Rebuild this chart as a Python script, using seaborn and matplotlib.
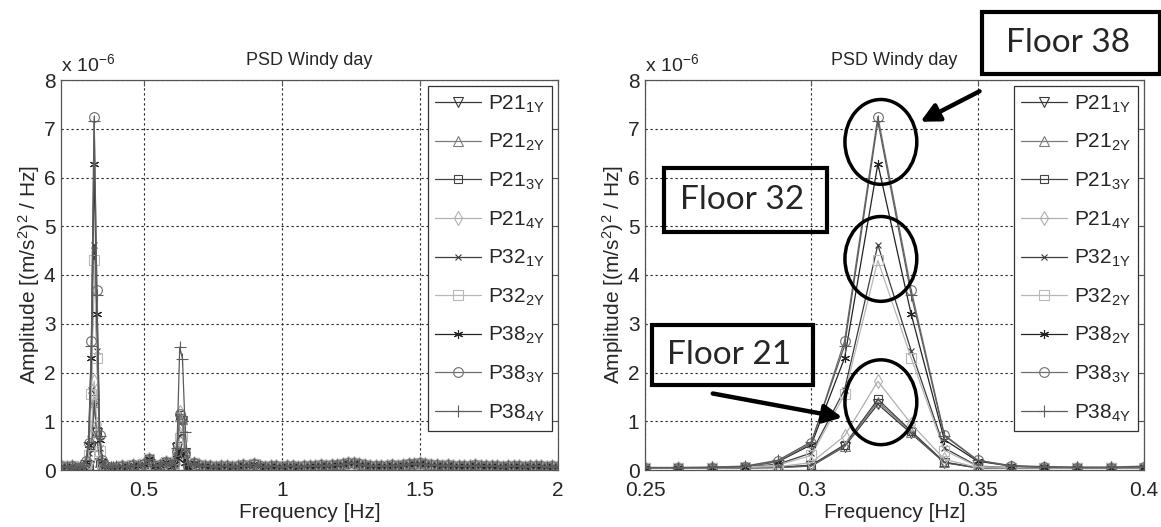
import numpy as np
import pandas as pd
import matplotlib.pyplot as plt
import seaborn as sns
from matplotlib.patches import Ellipse, Rectangle, FancyArrowPatch
from matplotlib.ticker import FuncFormatter

# amplitudes are in units of 1e-6 (m/s^2)^2/Hz

# zoomed frequency band around the first mode [Hz]
freq_zoom = [0.25, 0.26, 0.27, 0.28, 0.29, 0.30, 0.31, 0.32,
             0.33, 0.34, 0.35, 0.36, 0.37, 0.38, 0.39, 0.40]

# second mode band [Hz]
freq_mode2 = [0.60, 0.61, 0.62, 0.63, 0.64, 0.65, 0.66]

series_names = ["P21_1Y", "P21_2Y", "P21_3Y", "P21_4Y", "P32_1Y",
                "P32_2Y", "P38_2Y", "P38_3Y", "P38_4Y"]
series_labels = [r"P21$_{1Y}$", r"P21$_{2Y}$", r"P21$_{3Y}$", r"P21$_{4Y}$",
                 r"P32$_{1Y}$", r"P32$_{2Y}$", r"P38$_{2Y}$", r"P38$_{3Y}$",
                 r"P38$_{4Y}$"]

amp_zoom = {
    "P21_1Y": [0.04, 0.04, 0.04, 0.04, 0.05, 0.08, 0.48, 1.35, 0.75, 0.15, 0.04, 0.04, 0.04, 0.04, 0.04, 0.05],
    "P21_2Y": [0.04, 0.04, 0.04, 0.04, 0.05, 0.09, 0.50, 1.40, 0.78, 0.16, 0.04, 0.04, 0.04, 0.04, 0.04, 0.05],
    "P21_3Y": [0.04, 0.04, 0.04, 0.05, 0.06, 0.10, 0.52, 1.45, 0.80, 0.16, 0.05, 0.04, 0.04, 0.04, 0.04, 0.05],
    "P21_4Y": [0.04, 0.04, 0.04, 0.05, 0.07, 0.15, 0.70, 1.82, 0.95, 0.22, 0.05, 0.04, 0.04, 0.04, 0.04, 0.05],
    "P32_1Y": [0.04, 0.04, 0.05, 0.06, 0.12, 0.35, 1.65, 4.62, 2.45, 0.45, 0.08, 0.05, 0.04, 0.04, 0.04, 0.05],
    "P32_2Y": [0.04, 0.04, 0.05, 0.06, 0.10, 0.30, 1.55, 4.30, 2.30, 0.40, 0.07, 0.05, 0.04, 0.04, 0.04, 0.05],
    "P38_2Y": [0.05, 0.05, 0.05, 0.07, 0.17, 0.52, 2.30, 6.28, 3.20, 0.62, 0.18, 0.08, 0.06, 0.05, 0.05, 0.06],
    "P38_3Y": [0.05, 0.05, 0.05, 0.07, 0.18, 0.55, 2.65, 7.25, 3.70, 0.72, 0.20, 0.08, 0.06, 0.05, 0.05, 0.06],
    "P38_4Y": [0.05, 0.05, 0.06, 0.08, 0.20, 0.58, 2.55, 7.15, 3.60, 0.70, 0.20, 0.09, 0.07, 0.06, 0.06, 0.08],
}

amp_mode2 = {
    "P21_1Y": [0.08, 0.15, 0.45, 1.05, 1.00, 0.35, 0.08],
    "P21_2Y": [0.08, 0.15, 0.40, 1.10, 1.05, 0.30, 0.08],
    "P21_3Y": [0.08, 0.18, 0.50, 1.12, 1.02, 0.32, 0.08],
    "P21_4Y": [0.08, 0.15, 0.45, 1.20, 0.95, 0.30, 0.08],
    "P32_1Y": [0.07, 0.12, 0.30, 0.70, 0.75, 0.25, 0.07],
    "P32_2Y": [0.07, 0.12, 0.28, 0.65, 0.70, 0.22, 0.07],
    "P38_2Y": [0.07, 0.12, 0.25, 0.38, 0.35, 0.15, 0.07],
    "P38_3Y": [0.08, 0.15, 0.40, 1.15, 1.05, 0.35, 0.08],
    "P38_4Y": [0.10, 0.20, 0.45, 2.52, 2.28, 0.78, 0.10],
}

# background noise floor of the full spectrum, 0.20 .. 2.00 Hz every 0.02 Hz
freq_floor = np.round(np.arange(0.20, 2.001, 0.02), 2)
amp_floor = [0.08, 0.07, 0.09, 0.05, 0.05, 0.30, 1.00, 0.20, 0.06, 0.05, 0.06,
             0.09, 0.07, 0.10, 0.08, 0.12, 0.22, 0.09, 0.11, 0.16, 0.20, 0.30, 0.30, 0.15, 0.14, 0.10,
             0.08, 0.09, 0.07, 0.08, 0.09, 0.07, 0.08, 0.10, 0.09, 0.12,
             0.08, 0.07, 0.09, 0.08, 0.07, 0.08, 0.09, 0.07, 0.08, 0.09,
             0.08, 0.10, 0.09, 0.11, 0.10, 0.12, 0.14, 0.15, 0.12, 0.10,
             0.09, 0.08, 0.09, 0.08, 0.10, 0.09, 0.11, 0.12, 0.13, 0.14,
             0.12, 0.11, 0.10, 0.09, 0.10, 0.09, 0.08, 0.09, 0.08, 0.10,
             0.09, 0.08, 0.09, 0.08, 0.07, 0.08, 0.09, 0.08, 0.07, 0.08,
             0.09, 0.08, 0.07, 0.08, 0.07]

colors = ["#383838", "#7c7c7c", "#444444", "#b0b0b0", "#3c3c3c",
          "#b8b8b8", "#222222", "#6e6e6e", "#5c5c5c"]
markers = ["v", "^", "s", "d", "x", "s", (6, 2, 0), "o", "+"]
msizes = [7, 7, 6, 7, 4.5, 7, 6.5, 7, 8]

sns.set_style("white")
plt.rcParams["font.family"] = ["Liberation Sans", "DejaVu Sans"]
plt.rcParams["mathtext.default"] = "regular"

W, H = 1161, 527
fig = plt.figure(figsize=(W / 100, H / 100), dpi=100)
ax1 = fig.add_axes([61 / W, 1 - 470 / H, 497 / W, 390 / H])
ax2 = fig.add_axes([645 / W, 1 - 470 / H, 499 / W, 390 / H])

# left: full spectrum
keep = (freq_floor < 0.245) | ((freq_floor > 0.405) & (freq_floor < 0.595)) | (freq_floor > 0.665)
for name, lab, c, m, ms in zip(series_names, series_labels, colors, markers, msizes):
    f = np.concatenate([freq_floor[keep], freq_zoom, freq_mode2])
    a = np.concatenate([np.array(amp_floor)[keep], amp_zoom[name], amp_mode2[name]])
    df = pd.DataFrame({"f": f, "a": a})
    sns.lineplot(data=df, x="f", y="a", ax=ax1, color=c, marker=m, markersize=ms,
                 markerfacecolor="none", markeredgecolor=c, markeredgewidth=0.8,
                 linewidth=0.9, label=lab, errorbar=None)

# right: zoom on first mode
for name, lab, c, m, ms in zip(series_names, series_labels, colors, markers, msizes):
    df = pd.DataFrame({"f": freq_zoom, "a": amp_zoom[name]})
    sns.lineplot(data=df, x="f", y="a", ax=ax2, color=c, marker=m, markersize=ms,
                 markerfacecolor="none", markeredgecolor=c, markeredgewidth=0.8,
                 linewidth=0.9, label=lab, errorbar=None)

fmt = FuncFormatter(lambda v, p: f"{v:g}")
for ax, xlim, xticks in [(ax1, (0.2, 2.0), [0.5, 1, 1.5, 2]),
                         (ax2, (0.25, 0.4), [0.25, 0.3, 0.35, 0.4])]:
    ax.set_xlim(*xlim)
    ax.set_ylim(0, 8)
    ax.set_xticks(xticks)
    ax.set_yticks(range(9))
    ax.xaxis.set_major_formatter(fmt)
    ax.grid(True, color="#222222", linestyle=(0, (2, 2.5)), linewidth=0.8)
    ax.set_axisbelow(True)
    for s in ax.spines.values():
        s.set_color("#555555")
        s.set_linewidth(0.9)
    ax.tick_params(direction="in", length=4, top=True, right=True,
                   labelsize=15, color="#555555")
    ax.tick_params(axis="x", pad=8)
    ax.tick_params(axis="y", pad=4)
    ax.set_title("PSD Windy day", fontsize=13, pad=11)
    ax.set_xlabel("Frequency [Hz]", fontsize=15, labelpad=2)
    ax.set_ylabel(r"Amplitude [(m/s$^2$)$^2$ / Hz]", fontsize=15, labelpad=1)
    ax.text(0, 1.012, r"x 10$^{-6}$", transform=ax.transAxes, fontsize=14,
            ha="left", va="bottom")
    leg = ax.legend(loc="upper right", bbox_to_anchor=(1, 1), borderaxespad=0.3,
                    fontsize=15, labelspacing=0.83, handlelength=2.2,
                    handletextpad=0.3, fancybox=False, framealpha=1,
                    edgecolor="#333333", borderpad=0.35)
    leg.get_frame().set_linewidth(0.9)

# circles around the peaks
for yc in [6.73, 4.33, 1.39]:
    ax2.add_patch(Ellipse((0.3209, yc), 0.0216, 1.74, fill=False,
                          edgecolor="black", linewidth=2.5, zorder=5))


def fx(px):
    return px / W


def fy(py):
    return 1 - py / H


# floor boxes
boxes = [("Floor 38", 982, 12, 1160, 74), ("Floor 32", 664, 168, 827, 232),
         ("Floor 21", 652, 325, 813, 385)]
for txt, x0, y0, x1, y1 in boxes:
    fig.add_artist(Rectangle((fx(x0), fy(y1)), fx(x1) - fx(x0), fy(y0) - fy(y1),
                             transform=fig.transFigure, fill=False,
                             edgecolor="black", linewidth=3, zorder=6))
    fig.text(fx((x0 + x1) / 2 - 3), fy((y0 + y1) / 2), txt, family="Lato",
             fontsize=24, ha="center", va="center", zorder=7)

# arrows
for (xa, ya), (xb, yb) in [((982, 90), (918, 123)), ((710, 393), (845, 418))]:
    fig.add_artist(FancyArrowPatch((fx(xa), fy(ya)), (fx(xb), fy(yb)),
                                   transform=fig.transFigure, arrowstyle="-|>",
                                   mutation_scale=28, linewidth=3.2,
                                   color="black", zorder=7))

fig.savefig("out.png", dpi=100)
